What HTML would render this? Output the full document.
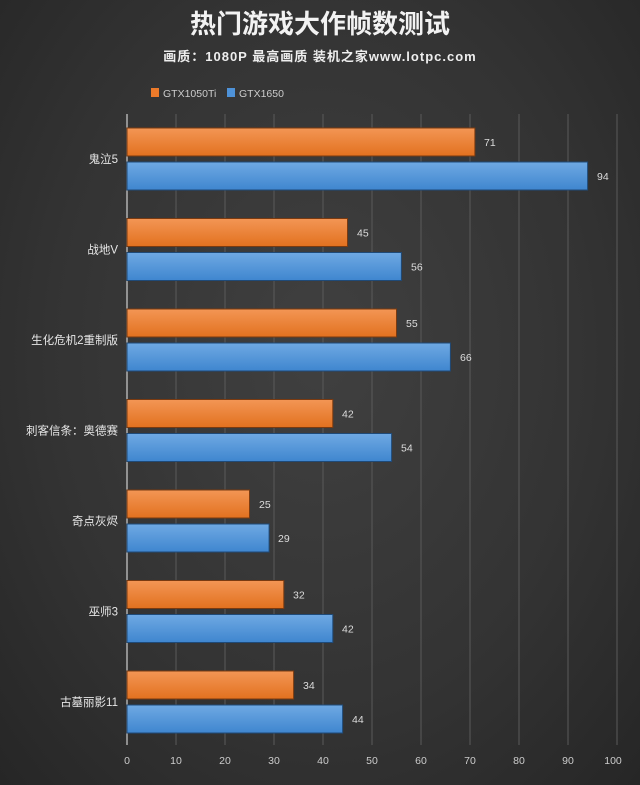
<!DOCTYPE html>
<html><head><meta charset="utf-8"><style>
body{margin:0;width:640px;height:785px;overflow:hidden;background:radial-gradient(ellipse at 50% 45%,#404040 0%,#333 60%,#262626 100%);font-family:"Liberation Sans","Noto Sans CJK SC",sans-serif;color:#ddd}
</style></head><body>
<svg width="640" height="785" xmlns="http://www.w3.org/2000/svg" style="position:absolute;left:0;top:0">
<defs>
<linearGradient id="o" x1="0" y1="0" x2="0" y2="1"><stop offset="0" stop-color="#f39655"/><stop offset="1" stop-color="#e2711f"/></linearGradient>
<linearGradient id="b" x1="0" y1="0" x2="0" y2="1"><stop offset="0" stop-color="#6fa9e3"/><stop offset="1" stop-color="#3f86cf"/></linearGradient>
</defs>
<text x="320" y="33" text-anchor="middle" font-size="26" font-weight="bold" fill="#f2f2f2" font-family="Noto Sans CJK SC,sans-serif">热门游戏大作帧数测试</text>
<text x="320" y="61" text-anchor="middle" font-size="13" font-weight="bold" fill="#eee" font-family="Liberation Sans,Noto Sans CJK SC,sans-serif" letter-spacing="1">画质：1080P 最高画质 装机之家www.lotpc.com</text>
<rect x="151" y="88" width="8" height="9" fill="#ec7a2a"/>
<text x="163" y="97" font-size="10.5" fill="#ccc">GTX1050Ti</text>
<rect x="227" y="88" width="8" height="9" fill="#4e92d8"/>
<text x="239" y="97" font-size="10.5" fill="#ccc">GTX1650</text>
<g stroke="#5a5a5a" stroke-width="1">
<line x1="176" y1="114" x2="176" y2="745"/><line x1="225" y1="114" x2="225" y2="745"/><line x1="274" y1="114" x2="274" y2="745"/><line x1="323" y1="114" x2="323" y2="745"/><line x1="372" y1="114" x2="372" y2="745"/><line x1="421" y1="114" x2="421" y2="745"/><line x1="470" y1="114" x2="470" y2="745"/><line x1="519" y1="114" x2="519" y2="745"/><line x1="568" y1="114" x2="568" y2="745"/><line x1="617" y1="114" x2="617" y2="745"/>
</g>
<line x1="127" y1="114" x2="127" y2="745" stroke="#cfcfcf" stroke-width="1.2"/>
<g font-size="10.5" fill="#ccc" text-anchor="middle">
<text x="127" y="764">0</text><text x="176" y="764">10</text><text x="225" y="764">20</text><text x="274" y="764">30</text><text x="323" y="764">40</text><text x="372" y="764">50</text><text x="421" y="764">60</text><text x="470" y="764">70</text><text x="519" y="764">80</text><text x="568" y="764">90</text><text x="613" y="764">100</text>
</g>
<g stroke-width="1">
<rect x="127" y="128" width="347.9" height="28" fill="url(#o)" stroke="#7a3a10"/>
<rect x="127" y="162" width="460.6" height="28" fill="url(#b)" stroke="#1f4a78"/>
<rect x="127" y="218.5" width="220.5" height="28" fill="url(#o)" stroke="#7a3a10"/>
<rect x="127" y="252.5" width="274.4" height="28" fill="url(#b)" stroke="#1f4a78"/>
<rect x="127" y="309" width="269.5" height="28" fill="url(#o)" stroke="#7a3a10"/>
<rect x="127" y="343" width="323.4" height="28" fill="url(#b)" stroke="#1f4a78"/>
<rect x="127" y="399.5" width="205.8" height="28" fill="url(#o)" stroke="#7a3a10"/>
<rect x="127" y="433.5" width="264.6" height="28" fill="url(#b)" stroke="#1f4a78"/>
<rect x="127" y="490" width="122.5" height="28" fill="url(#o)" stroke="#7a3a10"/>
<rect x="127" y="524" width="142.1" height="28" fill="url(#b)" stroke="#1f4a78"/>
<rect x="127" y="580.5" width="156.8" height="28" fill="url(#o)" stroke="#7a3a10"/>
<rect x="127" y="614.5" width="205.8" height="28" fill="url(#b)" stroke="#1f4a78"/>
<rect x="127" y="671" width="166.6" height="28" fill="url(#o)" stroke="#7a3a10"/>
<rect x="127" y="705" width="215.6" height="28" fill="url(#b)" stroke="#1f4a78"/>
</g>
<g font-size="10.5" fill="#ddd">
<text x="484" y="146">71</text><text x="597" y="180">94</text>
<text x="357" y="236.5">45</text><text x="411" y="270.5">56</text>
<text x="406" y="327">55</text><text x="460" y="361">66</text>
<text x="342" y="417.5">42</text><text x="401" y="451.5">54</text>
<text x="259" y="508">25</text><text x="278" y="542">29</text>
<text x="293" y="598.5">32</text><text x="342" y="632.5">42</text>
<text x="303" y="689">34</text><text x="352" y="723">44</text>
</g>
<g font-size="11.5" fill="#e6e6e6" text-anchor="end" font-family="Liberation Sans,Noto Sans CJK SC,sans-serif">
<text x="118" y="163">鬼泣5</text>
<text x="118" y="253.5">战地V</text>
<text x="118" y="344">生化危机2重制版</text>
<text x="118" y="434.5">刺客信条：奥德赛</text>
<text x="118" y="525">奇点灰烬</text>
<text x="118" y="615.5">巫师3</text>
<text x="118" y="706">古墓丽影11</text>
</g>
</svg>
</body></html>
